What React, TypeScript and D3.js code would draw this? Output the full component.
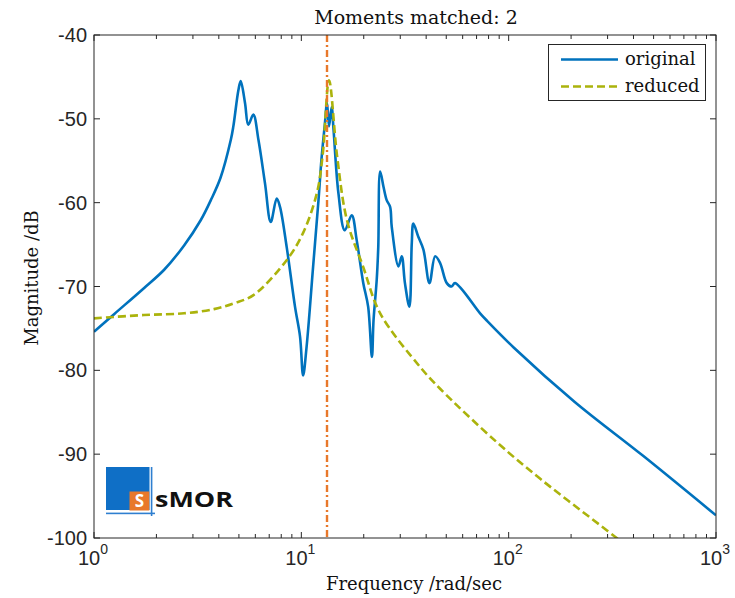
import React from 'react';
import * as d3 from 'd3';

// Bode magnitude, original model (frequency rad/sec, magnitude dB)
const origFreq = [1, 1.25, 1.74, 2.18, 2.72, 3.27, 3.66, 4.08, 4.57, 4.7, 4.97, 5.1, 5.35, 5.55, 5.87, 6.21, 6.68, 7.12, 7.61, 7.89, 8.5, 9.32, 9.86, 10.2, 10.6, 11.4, 12.1, 12.5, 13.0, 13.3, 13.6, 14.0, 14.3, 15.1, 16.2, 17.5, 18.5, 19.9, 21.0, 21.9, 22.3, 23.1, 23.5, 24.0, 24.9, 25.8, 26.8, 27.3, 29.4, 30.5, 31.6, 33.2, 34.1, 34.7, 36.7, 38.8, 41.5, 44.2, 46.7, 50.3, 53.1, 55.1, 72.8, 78.7, 106, 209, 445, 1000];
const origMag = [-75.4, -73.3, -70.2, -68.0, -65.1, -62.1, -59.7, -57.0, -52.5, -50.9, -46.6, -45.5, -48.1, -50.7, -49.5, -52.5, -57.7, -62.3, -59.5, -60.5, -65.3, -72.4, -76.0, -80.6, -77.2, -67.6, -59.7, -54.9, -50.5, -48.1, -50.9, -48.6, -51.3, -58.9, -63.3, -61.5, -64.5, -69.6, -72.4, -78.4, -74.0, -69.2, -65.3, -56.3, -58.1, -59.7, -60.5, -62.9, -67.6, -66.4, -69.6, -72.4, -64.8, -62.5, -64.1, -65.6, -69.6, -66.4, -67.2, -69.6, -70.0, -69.6, -73.2, -74.1, -77.3, -83.8, -90.2, -97.3];

// Reduced model
const redFreq = [1, 1.74, 2.72, 3.79, 4.73, 5.9, 8.53, 10.2, 11.9, 12.7, 13.6, 14.9, 16.6, 19.9, 24.0, 37.4, 46.7, 87.9, 143, 298, 340];
const redMag = [-73.8, -73.4, -73.2, -72.7, -72.0, -71.0, -66.8, -63.6, -58.8, -54.1, -45.4, -54.6, -62.1, -67.7, -73.2, -79.6, -82.2, -88.6, -93.0, -99.1, -100.2];

const matchFreq = 13.3;
const yTicks = [-40, -50, -60, -70, -80, -90, -100];
const xDecades = [0, 1, 2, 3];
const seriesNames = ['original', 'reduced'];

const W = 735;
const H = 598;
const m = { left: 94, right: 716, top: 35, bottom: 538 };

const BLUE = '#0072BD';
const OLIVE = '#abb30c';
const ORANGE = '#E8782A';
const AXIS = '#262626';
const SERIF = '"DejaVu Serif", "Liberation Serif", serif';
const SANS = '"Liberation Sans Narrow", "Liberation Sans", Arial, sans-serif';
const LOGO = '"Open Sans", "Noto Sans", sans-serif';

const App: React.FC = () => {
  const x = d3.scaleLog().domain([1, 1000]).range([m.left, m.right]);
  const y = d3.scaleLinear().domain([-100, -40]).range([m.bottom, m.top]);

  const line = d3.line<[number, number]>()
    .x(d => x(d[0]))
    .y(d => y(d[1]))
    .curve(d3.curveCatmullRom.alpha(0.5));

  const origPts = origFreq.map((f, i) => [f, origMag[i]] as [number, number]);
  const redPts = redFreq.map((f, i) => [f, redMag[i]] as [number, number]);

  // minor ticks on the log axis
  const minor: number[] = [];
  for (let d = 0; d < 3; d++) {
    for (let k = 2; k <= 9; k++) minor.push(k * Math.pow(10, d));
  }

  const tl = 6;

  return (
    <svg width={W} height={H} style={{ position: 'absolute', left: 0, top: 0, background: '#fff' }}>
      <defs>
        <clipPath id="plot">
          <rect x={m.left} y={m.top} width={m.right - m.left} height={m.bottom - m.top} />
        </clipPath>
      </defs>
      <rect x={0} y={0} width={W} height={H} fill="#fff" />

      <text x={416} y={24} textAnchor="middle" fontFamily={SERIF} fontSize={19} fill="#111">
        Moments matched: 2
      </text>

      <g clipPath="url(#plot)">
        <path d={line(origPts) || ''} fill="none" stroke={BLUE} strokeWidth={2.6} strokeLinejoin="round" />
        <path d={line(redPts) || ''} fill="none" stroke={OLIVE} strokeWidth={2.6} strokeDasharray="8,4" />
        <line x1={x(matchFreq)} x2={x(matchFreq)} y1={m.top} y2={m.bottom} stroke={ORANGE} strokeWidth={2.4} strokeDasharray="7,3,2,3" />
      </g>

      <rect x={m.left} y={m.top} width={m.right - m.left} height={m.bottom - m.top} fill="none" stroke={AXIS} strokeWidth={1} />

      {yTicks.map(t => (
        <g key={'y' + t}>
          <line x1={m.left} x2={m.left + tl} y1={y(t)} y2={y(t)} stroke={AXIS} />
          <line x1={m.right} x2={m.right - tl} y1={y(t)} y2={y(t)} stroke={AXIS} />
          <text x={87} y={y(t) + 7} textAnchor="end" fontFamily={SANS} fontSize={20} fill="#262626">{t}</text>
        </g>
      ))}

      {xDecades.map(d => (
        <g key={'x' + d}>
          <line x1={x(Math.pow(10, d))} x2={x(Math.pow(10, d))} y1={m.bottom} y2={m.bottom - tl} stroke={AXIS} />
          <line x1={x(Math.pow(10, d))} x2={x(Math.pow(10, d))} y1={m.top} y2={m.top + tl} stroke={AXIS} />
          <text x={x(Math.pow(10, d)) - 1} y={565} textAnchor="middle" fontFamily={SANS} fontSize={20} fill="#262626">
            10<tspan dy={-11} fontSize={14}>{d}</tspan>
          </text>
        </g>
      ))}
      {minor.map(v => (
        <g key={'m' + v}>
          <line x1={x(v)} x2={x(v)} y1={m.bottom} y2={m.bottom - 4} stroke={AXIS} />
          <line x1={x(v)} x2={x(v)} y1={m.top} y2={m.top + 4} stroke={AXIS} />
        </g>
      ))}

      <text x={414} y={590} textAnchor="middle" fontFamily={SERIF} fontSize={18} fill="#111">
        Frequency /rad/sec
      </text>
      <text transform="translate(38, 278) rotate(-90)" textAnchor="middle" fontFamily={SERIF} fontSize={18} fill="#111">
        Magnitude /dB
      </text>

      <g>
        <rect x={548.5} y={44.5} width={157} height={56} fill="#fff" stroke={AXIS} strokeWidth={1} />
        <line x1={561} x2={618} y1={59.5} y2={59.5} stroke={BLUE} strokeWidth={2.6} />
        <text x={625} y={65} fontFamily={SERIF} fontSize={18} fill="#111">{seriesNames[0]}</text>
        <line x1={561} x2={618} y1={86.5} y2={86.5} stroke={OLIVE} strokeWidth={2.6} strokeDasharray="8,4" />
        <text x={625} y={92} fontFamily={SERIF} fontSize={18} fill="#111">{seriesNames[1]}</text>
      </g>

      {/* ssMOR logo */}
      <g>
        <rect x={106} y={467} width={43.5} height={43} fill="#0f6fc6" />
        <rect x={150.8} y={467} width={1.6} height={49} fill="#2f7fd0" />
        <rect x={106} y={512.6} width={49} height={1.6} fill="#2f7fd0" />
        <rect x={129.5} y={491.5} width={19.8} height={19} fill="#e8782a" />
        <text x={139.4} y={507} textAnchor="middle" fontFamily={LOGO} fontWeight={700} fontSize={17} fill="#fff">S</text>
        <text x={155} y={507} fontFamily={LOGO} fontWeight={700} fontSize={22} fill="#111" textLength={78} lengthAdjust="spacingAndGlyphs">sMOR</text>
      </g>
    </svg>
  );
};

export default App;
